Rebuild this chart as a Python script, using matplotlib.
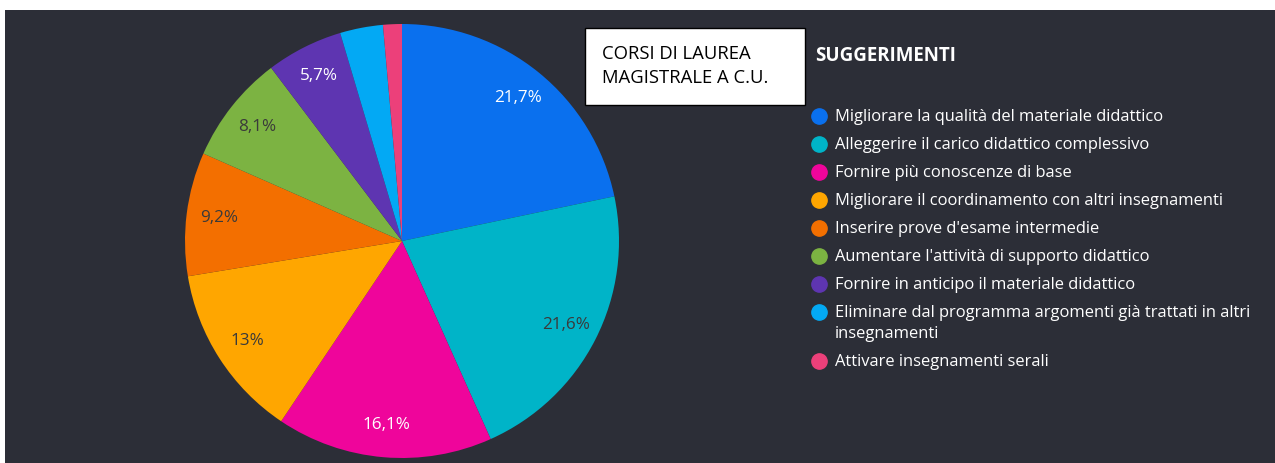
import matplotlib.pyplot as plt
from matplotlib.patches import Rectangle

plt.rcParams["font.family"] = ["Open Sans", "DejaVu Sans"]

# data
labels = [
    "Migliorare la qualità del materiale didattico",
    "Alleggerire il carico didattico complessivo",
    "Fornire più conoscenze di base",
    "Migliorare il coordinamento con altri insegnamenti",
    "Inserire prove d'esame intermedie",
    "Aumentare l'attività di supporto didattico",
    "Fornire in anticipo il materiale didattico",
    "Eliminare dal programma argomenti già trattati in altri\ninsegnamenti",
    "Attivare insegnamenti serali",
]
values = [21.7, 21.6, 16.1, 13.0, 9.2, 8.1, 5.7, 3.2, 1.4]
pct_text = ["21,7%", "21,6%", "16,1%", "13%", "9,2%", "8,1%", "5,7%", "", ""]
colors = ["#0a70ee", "#00b4c8", "#ef059b", "#ffa600", "#f36f00",
          "#7cb342", "#5e35b1", "#03a9f4", "#ec407a"]
text_colors = ["white", "#3a3a3a", "white", "#3a3a3a", "#3a3a3a",
               "#3a3a3a", "white", "white", "white"]

W, H = 1275, 463
fig = plt.figure(figsize=(W / 100, H / 100), dpi=100)
fig.patch.set_facecolor("white")
fig.patches.append(Rectangle((5 / W, 0), 1 - 5 / W, (H - 10) / H,
                             transform=fig.transFigure, facecolor="#2c2e37",
                             edgecolor="none", zorder=-1))

# pie
cx, cy, r = 402, 241, 217
ax = fig.add_axes([(cx - r) / W, (H - cy - r) / H, 2 * r / W, 2 * r / H])
ax.set_zorder(1)
wedges, texts = ax.pie(values, colors=colors, startangle=90, counterclock=False,
                       labels=pct_text, labeldistance=0.85,
                       wedgeprops=dict(linewidth=0),
                       textprops=dict(fontsize=12.3))
for t, c in zip(texts, text_colors):
    t.set_color(c)
    t.set_horizontalalignment("center")
    t.set_verticalalignment("center")
ax.set_xlim(-1, 1)
ax.set_ylim(-1, 1)
ax.set_aspect("equal")
ax.axis("off")

# title box
fig.patches.append(Rectangle((585 / W, (H - 105) / H), 220 / W, 77 / H,
                             transform=fig.transFigure, facecolor="white",
                             edgecolor="black", linewidth=1, zorder=2))
fig.text(602 / W, 1 - 66 / H, "CORSI DI LAUREA\nMAGISTRALE A C.U.",
         fontsize=13.3, color="black", va="center", ha="left",
         linespacing=1.4, zorder=3)

# legend
fig.text(815 / W, 1 - 56 / H, "SUGGERIMENTI", fontsize=13.5,
         fontweight="bold", color="white", va="center")
y = 116
for lab, col in zip(labels, colors):
    fig.add_artist(plt.Line2D([819 / W], [1 - y / H], marker="o", markersize=11,
                              color=col, transform=fig.transFigure))
    for k, line in enumerate(lab.split("\n")):
        fig.text(835 / W, 1 - (y + 5 + 21 * k) / H, line, fontsize=11.9,
                 color="white", va="baseline", ha="left")
    y += 28 + 21 * lab.count("\n")

fig.savefig("out.png", dpi=100)
